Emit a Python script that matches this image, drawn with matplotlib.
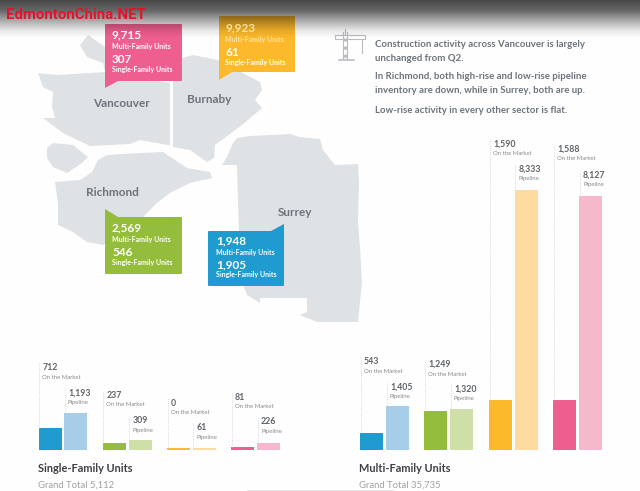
import numpy as np
import matplotlib
import matplotlib.pyplot as plt
from matplotlib.patches import Polygon, FancyBboxPatch

matplotlib.use('Agg')
plt.rcParams['font.family'] = ['Lato', 'DejaVu Sans']

# Values per city
cities = ['Vancouver', 'Burnaby', 'Richmond', 'Surrey']
city_multi = ['9,715', '9,923', '2,569', '1,948']
city_single = ['307', '61', '546', '1,905']

# Bars, order is surrey / richmond / burnaby / vancouver colours
single_market = [712, 237, 0, 81]
single_pipeline = [1193, 309, 61, 226]
multi_market = [543, 1249, 1590, 1588]
multi_pipeline = [1405, 1320, 8333, 8127]
single_total = '5,112'
multi_total = '35,735'

paragraphs = [
    ['Construction activity across Vancouver is largely', 'unchanged from Q2.'],
    ['In Richmond, both high-rise and low-rise pipeline', 'inventory are down, while in Surrey, both are up.'],
    ['Low-rise activity in every other sector is flat.'],
]

dark_colors = ['#1f9bd0', '#95bd3c', '#fdb92c', '#ee5f8f']
light_colors = ['#a8cde8', '#cfdfa8', '#fddba0', '#f6b8cb']
MAP_GREY = '#dfe2e5'
TEXT_GREY = '#6d737b'
LABEL_GREY = '#5f6368'

PX_PER_UNIT = 0.0312
BASE_Y = 450

fig = plt.figure(figsize=(6.4, 4.91), dpi=100, facecolor='#fefefe')

# Pixel axes for the map and all text
ax = fig.add_axes([0, 0, 1, 1])
ax.set_xlim(0, 640)
ax.set_ylim(491, 0)
ax.axis('off')

# Axes with the value scale, shares the baseline of the bars
ax_bar = fig.add_axes([0, (491 - BASE_Y) / 491, 1, BASE_Y / 491])
ax_bar.set_xlim(0, 640)
ax_bar.set_ylim(0, BASE_Y / PX_PER_UNIT)
ax_bar.axis('off')
ax_bar.patch.set_alpha(0)

# Dark band on top of the screenshot, it also darkens the callouts below it
band_y = np.arange(40)
band = np.zeros((40, 1, 4))
band[:, 0, 3] = np.interp(band_y, [0, 10, 20, 30, 38], [0.72, 0.6, 0.33, 0.09, 0])
ax.imshow(band, extent=[0, 640, 40, 0], aspect='auto', zorder=5)
ax.set_xlim(0, 640)
ax.set_ylim(491, 0)

# Map shapes, traced by hand
land = [
    # Vancouver
    [(80, 45), (88, 35), (105, 47), (120, 60), (120, 75), (170, 83), (170, 145), (168, 145), (140, 140), (130, 144),
     (90, 146), (63, 133), (43, 118), (55, 118), (52, 107), (53, 92), (43, 87), (38, 73), (57, 75), (105, 72),
     (103, 63), (87, 57)],
    # Burnaby
    [(173, 83), (175, 70), (182, 58), (193, 55), (218, 60), (260, 82), (262, 90), (255, 100), (262, 108), (242, 125),
     (215, 145), (214, 158), (207, 162), (190, 150), (173, 147)],
    # Island above Richmond
    [(47, 148), (53, 143), (73, 145), (88, 157), (82, 163), (67, 173), (53, 167), (47, 158)],
    # Richmond
    [(55, 182), (80, 180), (92, 172), (98, 160), (107, 155), (140, 153), (163, 152), (187, 168), (210, 172), (212, 178),
     (190, 183), (170, 193), (157, 203), (145, 215), (130, 230), (103, 245), (87, 242), (73, 232), (58, 225),
     (58, 203)],
    # Surrey
    [(237, 138), (250, 136), (290, 134), (300, 137), (320, 139), (323, 150), (335, 165), (358, 164), (359, 182),
     (358, 222), (360, 248), (362, 282), (360, 302), (358, 322), (317, 322), (300, 315), (307, 312), (307, 298),
     (260, 298), (260, 303), (247, 295), (243, 285), (239, 232), (238, 203), (237, 165), (222, 165), (227, 157),
     (233, 143)],
]
for shape in land:
    ax.add_patch(Polygon(shape, closed=True, fc=MAP_GREY, ec='none', zorder=1))

label_xy = [(121, 103), (209, 99), (112, 192), (295, 212)]
for name, (x, y) in zip(cities, label_xy):
    ax.text(x, y, name, ha='center', va='center', fontsize=8.5, fontweight='bold', color=TEXT_GREY, zorder=2)

# Callouts: box x0, y0, x1, y1 then the tail
boxes = [(105, 24, 182, 81), (219, 16, 295, 72), (105, 217, 182, 274), (208, 231, 284, 286)]
tails = [
    [(105, 78), (105, 88), (118, 81)],
    [(219, 69), (219, 80), (232, 72)],
    [(105, 220), (105, 209), (118, 217)],
    [(284, 234), (284, 224), (271, 231)],
]
box_colors = ['#ee5f8f', '#fdb92c', '#95bd3c', '#1f9bd0']
text_x = [112, 225, 112, 216]
text_y = [35, 28, 228, 241]
# the screenshot washes out the top of the yellow box
top_text = ['white', '#fde2a0', 'white', 'white']
for i in range(len(cities)):
    x0, y0, x1, y1 = boxes[i]
    ax.add_patch(FancyBboxPatch((x0 + 1, y0 + 1), x1 - x0 - 2, y1 - y0 - 2, boxstyle='round,pad=1',
                                fc=box_colors[i], ec='none', zorder=3))
    ax.add_patch(Polygon(tails[i], closed=True, fc=box_colors[i], ec='none', zorder=3))
    ax.text(text_x[i], text_y[i], city_multi[i], va='center', fontsize=8.5, fontweight='bold', color=top_text[i],
            zorder=6)
    ax.text(text_x[i], text_y[i] + 11, 'Multi-Family Units', va='center', fontsize=5, fontweight='bold',
            color=top_text[i], zorder=6)
    ax.text(text_x[i], text_y[i] + 24, city_single[i], va='center', fontsize=8.5, fontweight='bold', color='white',
            zorder=6)
    ax.text(text_x[i], text_y[i] + 34, 'Single-Family Units', va='center', fontsize=5, fontweight='bold',
            color='white', zorder=6)

# Text block at the right
line_y = [[44, 58], [76, 90], [110]]
for lines, ys in zip(paragraphs, line_y):
    for line, y in zip(lines, ys):
        ax.text(375, y, line, va='center', fontsize=6.95, fontweight='bold', color=TEXT_GREY)

# Crane icon
crane = '#b9bdc1'
ax.plot([343, 343], [32, 59], color=crane, lw=0.8)
ax.plot([347, 347], [32, 59], color=crane, lw=0.8)
ax.plot([335, 365, 365, 335, 335], [35, 35, 39, 39, 35], color=crane, lw=0.8)
ax.plot([339, 354], [60, 60], color=crane, lw=1.2)
ax.plot([345, 345], [29, 35], color=crane, lw=0.8)
ax.plot([362, 362], [39, 53], color=crane, lw=0.8)
ax.plot([345, 345], [38, 58], color=crane, lw=2.2, ls=':')


def draw_group(lefts_market, lefts_pipeline, market, pipeline, tops_market, tops_pipeline):
    for i in range(len(market)):
        groups = [
            (lefts_market[i], market[i], dark_colors[i], tops_market[i], 'On the Market'),
            (lefts_pipeline[i], pipeline[i], light_colors[i], tops_pipeline[i], 'Pipeline'),
        ]
        for left, value, color, label_y, caption in groups:
            ax_bar.bar(left, value, width=23, align='edge', color=color)
            if value == 0:
                # nothing to draw for zero, the original still shows a thin line
                ax_bar.hlines(1 / PX_PER_UNIT, left, left + 23, color=color, lw=1.5)
            # dotted leader from the label down to the bar
            ax_bar.vlines(left + 0.5, value, (BASE_Y - label_y + 5) / PX_PER_UNIT, color='#c8cacc', lw=0.6, ls=':')
            ax.text(left + 4, label_y, f'{value:,}', va='center', fontsize=6.3, fontweight='bold', color=LABEL_GREY)
            ax.text(left + 4, label_y + 9.5, caption, va='center', fontsize=4.3, color='#85898d')


draw_group([38.5, 102.5, 167, 231], [64, 128.5, 192.5, 257], single_market, single_pipeline,
           [367.7, 395.5, 403, 397], [392.7, 420.7, 428, 422])
draw_group([360, 424, 489, 553], [386, 450, 514.5, 579], multi_market, multi_pipeline,
           [361.7, 364.5, 144.3, 149.3], [386.7, 389, 169, 175])

# Titles under the bars
for x, title, total in [(38, 'Single-Family Units', single_total), (359, 'Multi-Family Units', multi_total)]:
    ax.text(x, 469, title, va='center', fontsize=7.9, fontweight='bold', color='#3f4045')
    ax.text(x, 485, 'Grand Total ' + total, va='center', fontsize=6.8, color='#a0a2a5')

# Screenshot edge line and the watermark
ax.plot([247, 393], [490.5, 490.5], color='#8a8a8a', lw=1)
ax.text(6, 15, 'EdmontonChina.NET', va='center', fontsize=10.8, fontweight='bold', color='#e8112d',
        family=['Roboto', 'DejaVu Sans'], zorder=7)

fig.savefig('out.png', dpi=100, facecolor=fig.get_facecolor())
